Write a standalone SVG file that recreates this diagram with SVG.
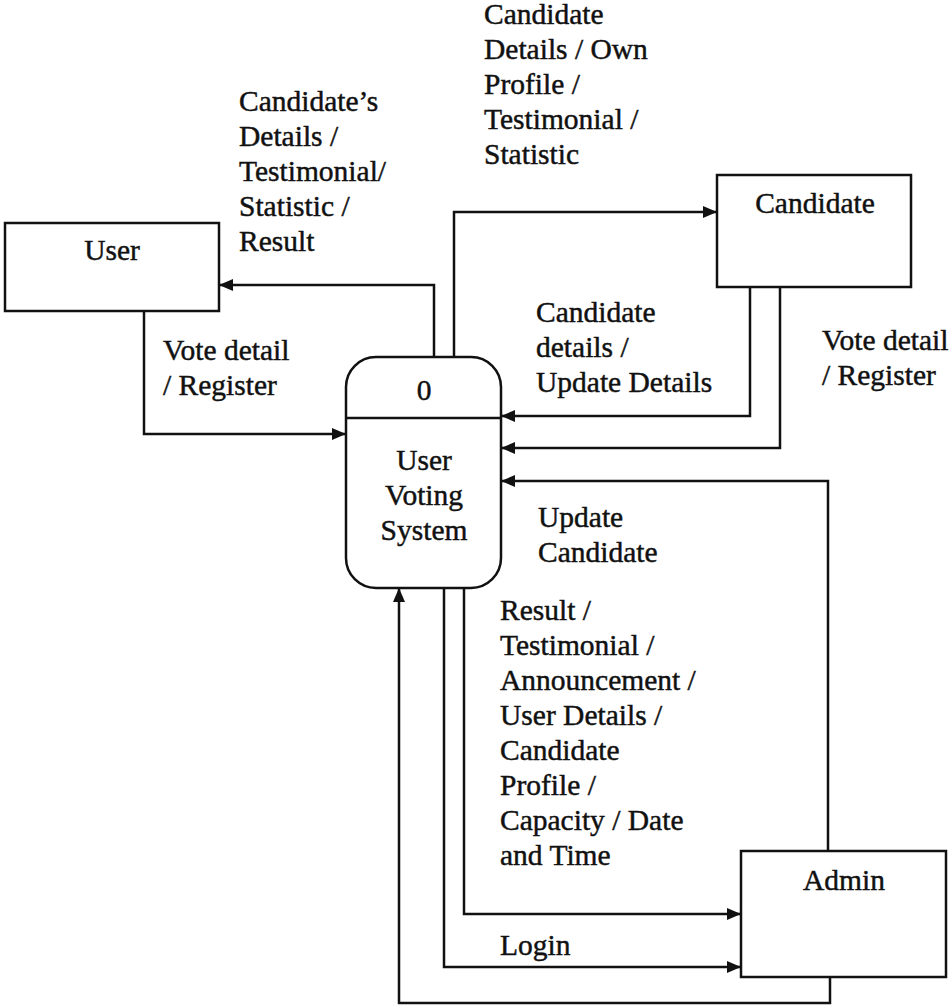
<svg xmlns="http://www.w3.org/2000/svg" width="952" height="1007" viewBox="0 0 952 1007">
  <style>
    .box { fill: #ffffff; stroke: #111111; stroke-width: 2.5; }
    .flow { fill: none; stroke: #111111; stroke-width: 2.5; marker-end: url(#arrow); }
    text { font-size: 29.5px; fill: #111111; stroke: #111111; stroke-width: 0.45; }
    .c { text-anchor: middle; }
  </style>
  <defs>
    <marker id="arrow" markerWidth="14" markerHeight="12" refX="14" refY="6" orient="auto" markerUnits="userSpaceOnUse">
      <path d="M0,0 L14,6 L0,12 Z" fill="#111111"/>
    </marker>
  </defs>
  <rect width="952" height="1007" fill="#ffffff"/>

  <!-- data flows -->
  <g id="connectors">
    <path class="flow" d="M434,357 V285 H219"/>
    <path class="flow" d="M454,357 V212 H717"/>
    <path class="flow" d="M144,311 V434 H346"/>
    <path class="flow" d="M750,287 V416 H501"/>
    <path class="flow" d="M780,287 V448 H501"/>
    <path class="flow" d="M828,851 V481 H501"/>
    <path class="flow" d="M464,588 V914 H741"/>
    <path class="flow" d="M444,588 V967 H741"/>
    <path class="flow" d="M830,977 V1003 H399 V588"/>
  </g>

  <g font-family="Liberation Serif, Times New Roman, serif">
    <!-- flow labels -->
    <g id="labels">
      <text x="484" y="24">Candidate</text>
      <text x="484" y="59">Details / Own</text>
      <text x="484" y="94">Profile /</text>
      <text x="484" y="129">Testimonial /</text>
      <text x="484" y="164">Statistic</text>

      <text x="239" y="111">Candidate’s</text>
      <text x="239" y="146">Details /</text>
      <text x="239" y="181">Testimonial/</text>
      <text x="239" y="216">Statistic /</text>
      <text x="239" y="251">Result</text>

      <text x="163" y="360">Vote detail</text>
      <text x="163" y="395">/ Register</text>

      <text x="536" y="322">Candidate</text>
      <text x="536" y="357">details /</text>
      <text x="536" y="392">Update Details</text>

      <text x="822" y="350">Vote detail</text>
      <text x="822" y="385">/ Register</text>

      <text x="538" y="527">Update</text>
      <text x="538" y="562">Candidate</text>

      <text x="500" y="620">Result /</text>
      <text x="500" y="655">Testimonial /</text>
      <text x="500" y="690">Announcement /</text>
      <text x="500" y="725">User Details /</text>
      <text x="500" y="760">Candidate</text>
      <text x="500" y="795">Profile /</text>
      <text x="500" y="830">Capacity / Date</text>
      <text x="500" y="865">and Time</text>

      <text x="500" y="955">Login</text>
    </g>

    <g id="user">
      <rect class="box" x="5" y="223" width="214" height="88"/>
      <text class="c" x="112" y="260">User</text>
    </g>

    <g id="candidate">
      <rect class="box" x="717" y="175" width="194" height="112"/>
      <text class="c" x="815" y="213">Candidate</text>
    </g>

    <g id="process">
      <rect class="box" x="346" y="357" width="155" height="231" rx="30" ry="30"/>
      <line x1="346" y1="418" x2="501" y2="418" stroke="#111111" stroke-width="2.5"/>
      <text class="c" x="424" y="400">0</text>
      <text class="c" x="424" y="470">User</text>
      <text class="c" x="424" y="505">Voting</text>
      <text class="c" x="424" y="540">System</text>
    </g>

    <g id="admin">
      <rect class="box" x="741" y="851" width="205" height="126"/>
      <text class="c" x="844" y="890">Admin</text>
    </g>
  </g>
</svg>
